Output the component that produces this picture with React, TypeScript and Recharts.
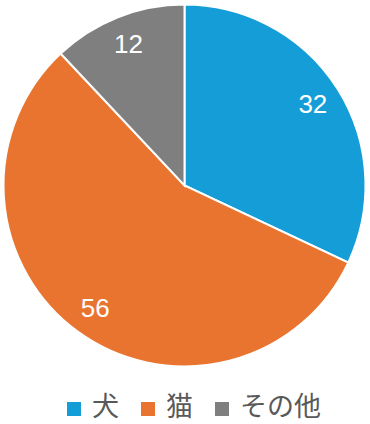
import React from "react";
import { PieChart, Pie, Cell } from "recharts";

const categories = ["犬", "猫", "その他"];
const values = [32, 56, 12];
const colors = ["#159DD8", "#E9742F", "#7F7F7F"];

const data = categories.map((name, i) => ({ name, value: values[i] }));

const RAD = Math.PI / 180;

const renderLabel = (props: any) => {
  const { cx, cy, midAngle, value } = props;
  const r = 152;
  const x = cx + r * Math.cos(-midAngle * RAD);
  const y = cy + r * Math.sin(-midAngle * RAD);
  return (
    <text
      x={x}
      y={y}
      fill="#ffffff"
      textAnchor="middle"
      dominantBaseline="central"
      fontFamily="'Liberation Sans', Arial, sans-serif"
      fontSize={26}
    >
      {value}
    </text>
  );
};

export default function App() {
  return (
    <div style={{ position: "absolute", left: 0, top: 0, width: 370, height: 424, background: "#fff" }}>
      <PieChart width={370} height={380} margin={{ top: 0, right: 0, bottom: 0, left: 0 }}>
        <Pie
          data={data}
          dataKey="value"
          nameKey="name"
          cx={184.5}
          cy={185.5}
          outerRadius={181}
          startAngle={90}
          endAngle={-270}
          stroke="#ffffff"
          strokeWidth={2}
          label={renderLabel}
          labelLine={false}
          isAnimationActive={false}
        >
          {data.map((d, i) => (
            <Cell key={d.name} fill={colors[i]} />
          ))}
        </Pie>
      </PieChart>
      <div
        style={{
          position: "absolute",
          left: 0,
          top: 384.5,
          width: 370,
          display: "flex",
          alignItems: "flex-start",
          paddingLeft: 67,
          boxSizing: "border-box",
          fontFamily: "'Noto Sans CJK JP', sans-serif",
          fontSize: 27,
          lineHeight: "normal",
          color: "#595959",
        }}
      >
        {data.map((d, i) => (
          <div key={d.name} style={{ display: "flex", alignItems: "flex-start", marginRight: 22 }}>
            <span
              style={{
                display: "inline-block",
                width: 14,
                height: 14,
                marginTop: 17.5,
                background: colors[i],
                marginRight: 11,
              }}
            />
            <span>{d.name}</span>
          </div>
        ))}
      </div>
    </div>
  );
}
